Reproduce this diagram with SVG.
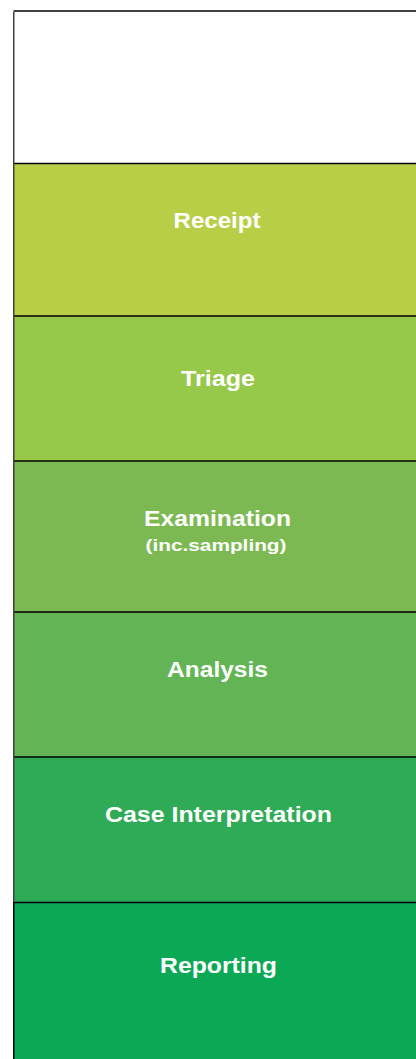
<svg xmlns="http://www.w3.org/2000/svg" width="416" height="1059" viewBox="0 0 416 1059">
<style>
.t{font-family:"Liberation Sans",Arial,sans-serif;font-weight:bold;fill:#fff;text-anchor:middle}
.m{font-size:22.5px}
.s{font-size:17px}
.sep{stroke:#000;stroke-width:1.5}
</style>
<rect width="416" height="1059" fill="#fff"/>
<g id="header"><rect x="14" y="11" width="402" height="152" fill="#fff"/></g>
<g id="receipt"><rect x="14" y="163.5" width="402" height="152.5" fill="#B9CE47"/><text class="t m" x="217" y="228" textLength="87" lengthAdjust="spacingAndGlyphs">Receipt</text></g>
<g id="triage"><rect x="14" y="316" width="402" height="145" fill="#96C84A"/><text class="t m" x="218" y="386" textLength="74" lengthAdjust="spacingAndGlyphs">Triage</text></g>
<g id="examination"><rect x="14" y="461" width="402" height="151" fill="#7DB952"/><text class="t m" x="217.5" y="525.5" textLength="147" lengthAdjust="spacingAndGlyphs">Examination</text><text class="t s" x="216" y="551" textLength="141" lengthAdjust="spacingAndGlyphs">(inc.sampling)</text></g>
<g id="analysis"><rect x="14" y="612" width="402" height="145" fill="#62B454"/><text class="t m" x="217.5" y="676.5" textLength="101" lengthAdjust="spacingAndGlyphs">Analysis</text></g>
<g id="case"><rect x="14" y="757" width="402" height="145.5" fill="#2FAA57"/><text class="t m" x="218.5" y="821.5" textLength="227" lengthAdjust="spacingAndGlyphs">Case Interpretation</text></g>
<g id="reporting"><rect x="14" y="902.5" width="402" height="156.5" fill="#0BA856"/><text class="t m" x="218.5" y="973" textLength="117" lengthAdjust="spacingAndGlyphs">Reporting</text></g>
<g id="connectors">
<line class="sep" x1="13.5" y1="11" x2="416" y2="11" stroke-width="2.5"/>
<line class="sep" x1="13.5" y1="163.5" x2="416" y2="163.5"/>
<line class="sep" x1="13.5" y1="316" x2="416" y2="316"/>
<line class="sep" x1="13.5" y1="461" x2="416" y2="461"/>
<line class="sep" x1="13.5" y1="612" x2="416" y2="612"/>
<line class="sep" x1="13.5" y1="757" x2="416" y2="757"/>
<line class="sep" x1="13.5" y1="902.5" x2="416" y2="902.5"/>
<line x1="13.75" y1="12" x2="13.75" y2="902" stroke="#404040" stroke-width="1.5"/>
<line x1="13.75" y1="902" x2="13.75" y2="1059" stroke="#000" stroke-width="1.5"/>
</g>
</svg>
